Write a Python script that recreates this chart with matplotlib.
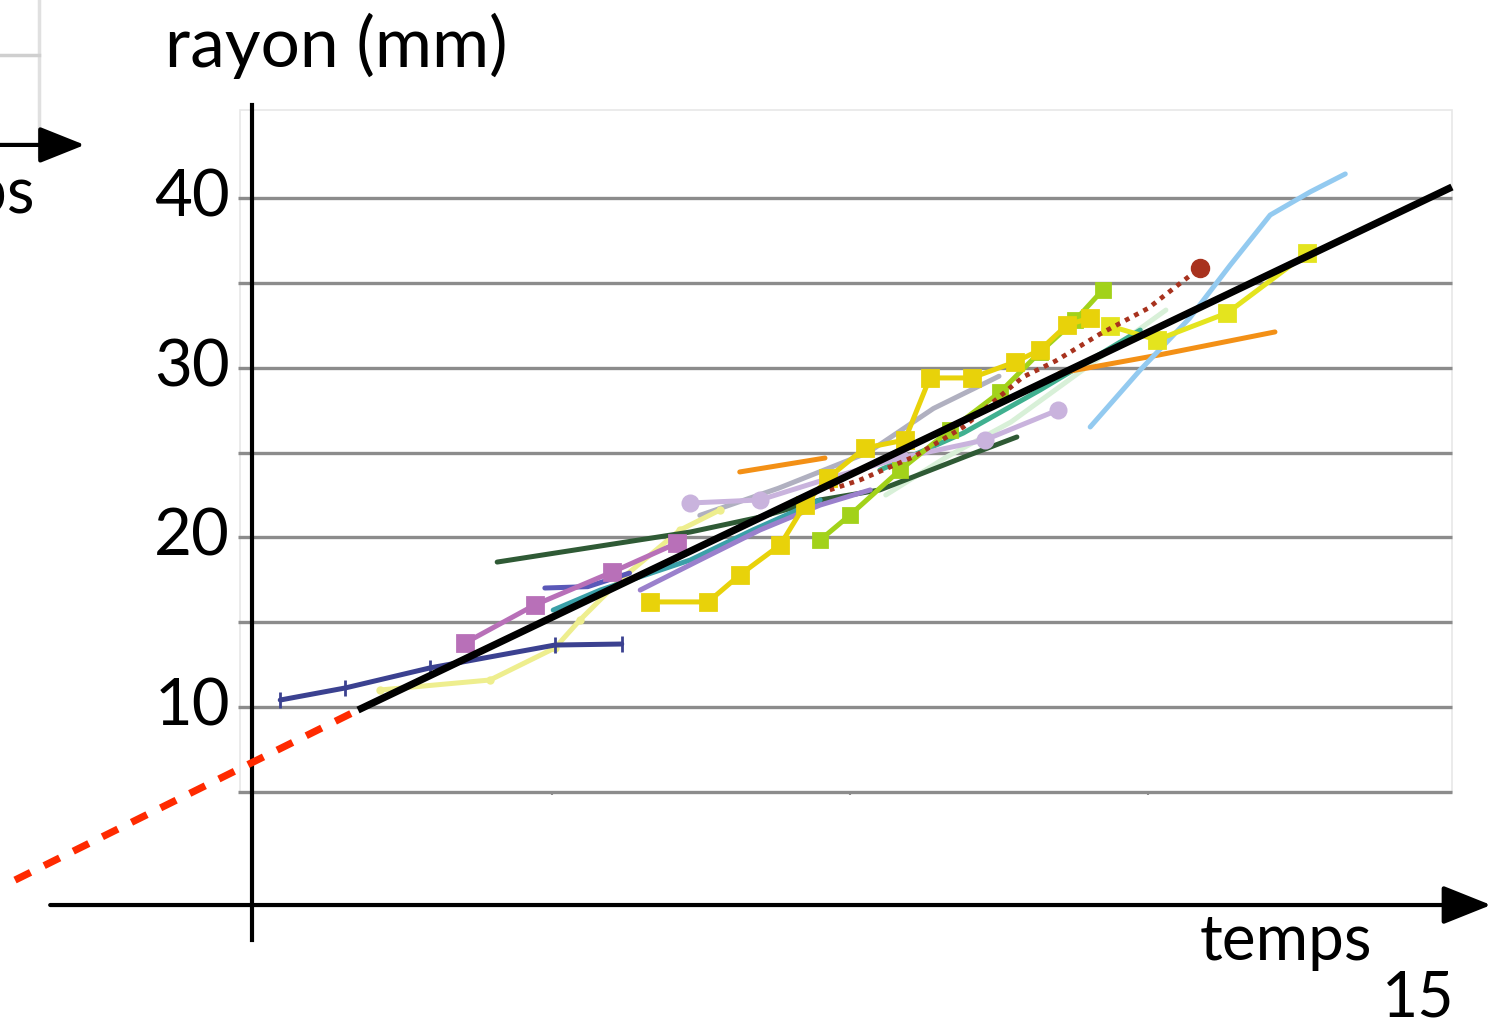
import matplotlib.pyplot as plt
from matplotlib.patches import Rectangle

plt.rcParams["font.family"] = ["Lato", "DejaVu Sans"]

# radius (mm) ticks / grid
grid_r = [5, 10, 15, 20, 25, 30, 35, 40]
tick_r = [10, 20, 30, 40]
tick_t = [5, 10, 15]

# measured growth curves: time t, radius r (mm)
navy_t = [0.44, 1.53, 2.95, 5.05, 6.17]
navy_r = [10.42, 11.13, 12.31, 13.66, 13.72]
paleyel_t = [2.11, 3.96, 5.05, 5.47, 6.14, 7.15, 7.82]
paleyel_r = [11.01, 11.60, 13.49, 15.14, 17.49, 20.44, 21.62]
pink_t = [3.54, 4.71, 6.01, 7.10]
pink_r = [13.78, 16.02, 17.96, 19.67]
dkgreen_t = [4.08, 7.32, 8.49, 9.50, 10.50, 11.96, 12.80]
dkgreen_r = [18.55, 20.32, 21.20, 22.21, 22.80, 24.80, 25.92]
blue_t = [4.88, 5.60, 6.30]
blue_r = [17.02, 17.10, 17.90]
teal_t = [5.02, 5.81, 7.32, 8.37, 9.50]
teal_r = [15.72, 16.90, 18.67, 20.44, 22.21]
seagreen_t = [10.50, 11.90, 13.19, 14.87]
seagreen_r = [23.97, 26.15, 28.69, 32.22]
violet_t = [6.48, 7.48, 8.49, 9.50, 10.34]
violet_r = [16.90, 18.67, 20.44, 21.91, 22.80]
gray_t = [7.48, 8.80, 10.30, 11.40, 12.50]
gray_r = [21.30, 22.90, 25.00, 27.60, 29.50]
mint_t = [10.60, 11.60, 12.70, 13.80, 15.30]
mint_r = [22.50, 24.70, 26.80, 29.60, 33.40]
gold_t = [6.64, 7.62, 8.15, 8.83, 9.24, 9.63, 10.25, 10.92, 11.34, 12.04,
          12.77, 13.19, 13.64, 14.03]
gold_r = [16.20, 16.20, 17.79, 19.56, 21.91, 23.50, 25.27, 25.74, 29.40, 29.40,
          30.34, 31.05, 32.52, 32.93]
yellow_t = [14.36, 15.15, 16.33, 17.67]
yellow_r = [32.46, 31.64, 33.23, 36.76]
ltblue_t = [14.03, 14.87, 15.70, 16.38, 17.05, 17.72, 18.31]
ltblue_r = [26.51, 29.87, 32.93, 36.05, 39.00, 40.36, 41.42]
orangeA_t = [8.15, 9.58]
orangeA_r = [23.86, 24.68]
orangeB_t = [13.52, 15.18, 17.13]
orangeB_r = [29.69, 30.75, 32.11]
lime_t = [9.50, 10.00, 10.84, 11.68, 12.52, 13.19, 13.78, 14.24]
lime_r = [19.85, 21.32, 23.97, 26.33, 28.57, 30.93, 32.81, 34.58]
lav_t = [7.32, 8.49, 9.66, 10.84, 12.26, 13.49]
lav_r = [22.03, 22.21, 23.50, 24.68, 25.74, 27.51]
brown_t = [9.66, 10.17, 11.06, 11.90, 12.90, 13.45, 14.20, 15.00, 15.87]
brown_r = [22.80, 23.39, 24.74, 26.50, 29.45, 30.40, 32.00, 33.50, 35.88]

# fitted line and its extrapolation back to t < 0
fit_t = [1.745, 20.10]
fit_r = [9.83, 40.65]
extra_t = [-4.01, 1.745]
extra_r = [-0.19, 9.83]

fig = plt.figure(figsize=(14.91, 10.25), dpi=100)
ax = fig.add_axes([0, 0, 1, 1])
ax.set_xlim(-4.262, 20.755)
ax.set_ylim(-8.73, 51.67)
ax.axis("off")

# chart panel + grid
ax.add_patch(Rectangle((-0.235, 5), 20.335, 40.2, facecolor="white",
                       edgecolor="#e8e8e8", lw=1.2, zorder=0))
ax.hlines(grid_r, -0.27, 20.10, color="#8c8c8c", lw=2.4, zorder=1)
ax.vlines(tick_t, 4.8, 5, color="#8c8c8c", lw=1.5, zorder=1)

series = [
    (mint_t, mint_r, "#d8f0d8", None, 0),
    (gray_t, gray_r, "#b0b0c0", None, 0),
    (paleyel_t, paleyel_r, "#eeee8e", ".", 8),
    (dkgreen_t, dkgreen_r, "#2f5a35", None, 0),
    (teal_t, teal_r, "#3aa0a8", None, 0),
    (violet_t, violet_r, "#9a80cc", None, 0),
    (blue_t, blue_r, "#5a58b8", None, 0),
    (pink_t, pink_r, "#b870b8", "s", 11),
    (navy_t, navy_r, "#3b4190", "|", 11),
    (seagreen_t, seagreen_r, "#40b090", None, 0),
    (lav_t, lav_r, "#c9b3dd", "o", 11),
    (orangeA_t, orangeA_r, "#f39016", None, 0),
    (orangeB_t, orangeB_r, "#f39016", None, 0),
    (ltblue_t, ltblue_r, "#93caf0", None, 0),
    (lime_t, lime_r, "#a2d21a", "s", 10),
    (gold_t, gold_r, "#e8d20a", "s", 12),
    (yellow_t, yellow_r, "#e4e41e", "s", 11),
]
for t, r, c, m, ms in series:
    ax.plot(t, r, color=c, lw=3.6, marker=m, ms=ms, mew=2, zorder=2,
            solid_capstyle="round")

ax.plot(brown_t, brown_r, color="#a8321e", lw=3.4, ls=(0, (1, 1.2)), zorder=2)
ax.plot(brown_t[-1:], brown_r[-1:], "o", color="#a8321e", ms=13, zorder=2)

ax.plot(fit_t, fit_r, color="black", lw=5.2, solid_capstyle="butt", zorder=4)
ax.plot(extra_t, extra_r, color="#ff2a00", lw=5.2, ls=(0, (2.4, 2.1)),
        dash_capstyle="butt", zorder=5)

# hand-drawn axes
ax.plot([-0.034, -0.034], [45.48, -3.72], color="black", lw=3, zorder=4)
ax.annotate("", xy=(20.755, -1.66), xytext=(-3.42, -1.66),
            arrowprops=dict(arrowstyle="-|>,head_length=1.0,head_width=0.4",
                            lw=3, color="black", mutation_scale=30,
                            shrinkA=0, shrinkB=0), zorder=4)

for v in tick_r:
    ax.text(-0.40, v, str(v), fontsize=47, ha="right", va="center")
ax.text(-1.49, 47.7, "rayon (mm)", fontsize=50, ha="left", va="baseline")
ax.text(15.87, -4.9, "temps", fontsize=46, ha="left", va="baseline")
ax.text(20.15, -8.25, "15", fontsize=45, ha="right", va="baseline")

# leftover of the previous chart on the slide (top-left)
ax.plot([-3.6, -3.6], [51.67, 42.5], color="#e0e0e0", lw=2.5, zorder=1)
ax.plot([-4.262, -3.6], [48.43, 48.43], color="#cfcfcf", lw=2.5, zorder=1)
ax.annotate("", xy=(-2.84, 43.13), xytext=(-4.262, 43.13),
            arrowprops=dict(arrowstyle="-|>,head_length=1.0,head_width=0.4",
                            lw=3, color="black", mutation_scale=28,
                            shrinkA=0, shrinkB=0), zorder=4)
ax.text(-3.67, 40.2, "temps", fontsize=46, ha="right", va="center")

fig.savefig("out.png", dpi=100)
